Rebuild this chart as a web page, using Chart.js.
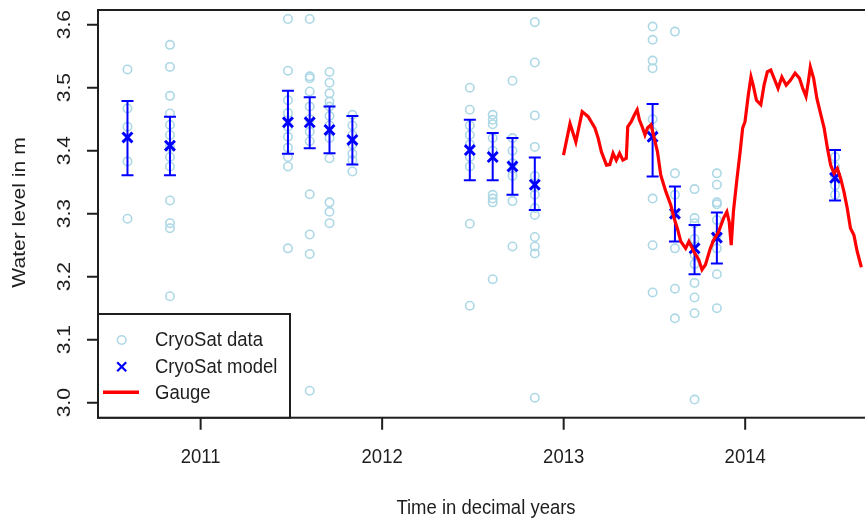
<!DOCTYPE html>
<html><head><meta charset="utf-8">
<script src="https://cdn.jsdelivr.net/npm/chart.js@4.4.0/dist/chart.umd.min.js"></script>
<style>
html,body{margin:0;padding:0;background:#fff;overflow:hidden;width:865px;height:519px;}
#wrap{position:absolute;left:0;top:0;width:880px;height:519px;}
</style></head><body>
<div id="wrap"><canvas id="c" width="880" height="519"></canvas></div>
<script>
// ---------- data ----------
const xTicks = [2011, 2012, 2013, 2014];
const xTickLabels = ['2011', '2012', '2013', '2014'];
const yTicks = [3.0, 3.1, 3.2, 3.3, 3.4, 3.5, 3.6];
const yTickLabels = ['3.0', '3.1', '3.2', '3.3', '3.4', '3.5', '3.6'];
const xTitle = 'Time in decimal years';
const yTitle = 'Water level in m';
const legendLabels = ['CryoSat data', 'CryoSat model', 'Gauge'];

const passTimes = [2010.597, 2010.831, 2011.481, 2011.601, 2011.710, 2011.836,
  2012.483, 2012.609, 2012.718, 2012.841, 2013.490, 2013.613, 2013.721, 2013.844, 2014.495];

const cryoData = [
  [3.529, 3.467, 3.438, 3.383, 3.292],
  [3.568, 3.533, 3.487, 3.459, 3.441, 3.425, 3.406, 3.390, 3.375, 3.321, 3.285, 3.277, 3.169],
  [3.609, 3.527, 3.480, 3.460, 3.438, 3.422, 3.405, 3.390, 3.375, 3.245],
  [3.609, 3.518, 3.515, 3.494, 3.470, 3.450, 3.430, 3.415, 3.331, 3.267, 3.236, 3.019],
  [3.525, 3.508, 3.491, 3.478, 3.470, 3.455, 3.440, 3.420, 3.388, 3.318, 3.303, 3.285],
  [3.457, 3.440, 3.425, 3.410, 3.395, 3.385, 3.367],
  [3.500, 3.465, 3.440, 3.425, 3.410, 3.390, 3.375, 3.284, 3.154],
  [3.457, 3.449, 3.442, 3.420, 3.400, 3.330, 3.324, 3.318, 3.196],
  [3.511, 3.420, 3.400, 3.380, 3.360, 3.320, 3.248],
  [3.604, 3.540, 3.456, 3.406, 3.360, 3.330, 3.309, 3.298, 3.263, 3.248, 3.237, 3.008],
  [3.597, 3.576, 3.543, 3.531, 3.450, 3.430, 3.324, 3.250, 3.175],
  [3.589, 3.364, 3.330, 3.300, 3.245, 3.181, 3.134],
  [3.339, 3.293, 3.285, 3.260, 3.235, 3.220, 3.190, 3.167, 3.142, 3.005],
  [3.364, 3.346, 3.318, 3.315, 3.290, 3.265, 3.245, 3.204, 3.150],
  [3.390, 3.375, 3.360, 3.345, 3.330]
];

const modelLevels = [3.421, 3.408, 3.445, 3.445, 3.433, 3.417, 3.401, 3.390, 3.375, 3.346, 3.422, 3.300, 3.245, 3.262, 3.357];
const modelUpper  = [3.479, 3.454, 3.495, 3.485, 3.470, 3.455, 3.449, 3.428, 3.420, 3.389, 3.474, 3.343, 3.282, 3.302, 3.401];
const modelLower  = [3.361, 3.361, 3.395, 3.404, 3.396, 3.378, 3.353, 3.353, 3.330, 3.306, 3.359, 3.256, 3.204, 3.221, 3.321];

const gaugeTimes = [2012.999, 2013.035, 2013.067, 2013.102, 2013.135, 2013.172, 2013.190, 2013.208, 2013.236, 2013.254,
  2013.272, 2013.290, 2013.308, 2013.326, 2013.345, 2013.353, 2013.372, 2013.390, 2013.405, 2013.417,
  2013.435, 2013.448, 2013.462, 2013.481, 2013.499, 2013.517, 2013.535, 2013.563, 2013.590, 2013.608,
  2013.626, 2013.645, 2013.672, 2013.690, 2013.717, 2013.744, 2013.762, 2013.781, 2013.808, 2013.826,
  2013.853, 2013.881, 2013.899, 2013.912, 2013.923, 2013.935, 2013.953, 2013.972, 2013.986, 2013.999,
  2014.017, 2014.032, 2014.044, 2014.062, 2014.086, 2014.104, 2014.122, 2014.141, 2014.159, 2014.181,
  2014.202, 2014.226, 2014.250, 2014.275, 2014.299, 2014.317, 2014.335, 2014.348, 2014.359, 2014.377,
  2014.395, 2014.417, 2014.435, 2014.453, 2014.471, 2014.490, 2014.508, 2014.526, 2014.544, 2014.562,
  2014.580, 2014.599, 2014.617, 2014.640];
const gaugeLevels = [3.393, 3.443, 3.414, 3.462, 3.454, 3.436, 3.420, 3.398, 3.377, 3.378,
  3.396, 3.385, 3.396, 3.385, 3.388, 3.438, 3.446, 3.457, 3.465, 3.449,
  3.436, 3.425, 3.436, 3.441, 3.420, 3.398, 3.361, 3.335, 3.314, 3.293,
  3.277, 3.256, 3.245, 3.256, 3.240, 3.227, 3.211, 3.219, 3.245, 3.258,
  3.271, 3.293, 3.303, 3.287, 3.250, 3.303, 3.351, 3.398, 3.436, 3.446,
  3.488, 3.517, 3.504, 3.480, 3.473, 3.504, 3.525, 3.528, 3.515, 3.499,
  3.517, 3.504, 3.512, 3.523, 3.515, 3.499, 3.486, 3.510, 3.533, 3.515,
  3.483, 3.457, 3.436, 3.404, 3.377, 3.364, 3.372, 3.356, 3.335, 3.309,
  3.277, 3.266, 3.240, 3.215];

// ---------- styles ----------
const X_MIN = 2010.4346, X_MAX = 2014.6876;
const Y_MIN = 2.9762, Y_MAX = 3.6233;
const FONT = '18.5px "Liberation Sans", Arial, sans-serif';
const SY = 1.14;
const INK = '#1e1e1e';

const dataPts = [];
cryoData.forEach((vals, i) => vals.forEach(v => dataPts.push({x: passTimes[i], y: v})));
const modelPts = passTimes.map((t, i) => ({x: t, y: modelLevels[i]}));
const gaugePts = gaugeTimes.map((t, i) => ({x: t, y: gaugeLevels[i]}));

function txt(ctx, s, x, y, rot, align) {
  ctx.save();
  ctx.translate(x, y);
  ctx.scale(1, SY);
  if (rot) ctx.rotate(-Math.PI / 2);
  ctx.font = FONT;
  ctx.fillStyle = INK;
  ctx.textAlign = align || 'center';
  ctx.textBaseline = 'middle';
  ctx.fillText(s, 0, 0);
  ctx.restore();
}

const rStyle = {
  id: 'rStyle',
  afterDatasetDraw(chart, args) {
    if (args.index !== 2) return;
    const ctx = chart.ctx, xs = chart.scales.x, ys = chart.scales.y;
    ctx.save();
    ctx.strokeStyle = '#0000ff';
    ctx.lineWidth = 2;
    passTimes.forEach((t, i) => {
      const px = xs.getPixelForValue(t);
      const pu = ys.getPixelForValue(modelUpper[i]);
      const pl = ys.getPixelForValue(modelLower[i]);
      ctx.beginPath();
      ctx.moveTo(px, pu); ctx.lineTo(px, pl);
      ctx.moveTo(px - 6, pu); ctx.lineTo(px + 6, pu);
      ctx.moveTo(px - 6, pl); ctx.lineTo(px + 6, pl);
      ctx.stroke();
    });
    ctx.restore();
  },
  afterDraw(chart) {
    const ctx = chart.ctx, xs = chart.scales.x, ys = chart.scales.y, a = chart.chartArea;
    ctx.save();
    ctx.strokeStyle = INK;
    ctx.lineWidth = 2;
    // box
    ctx.strokeRect(a.left, a.top, a.right - a.left, a.bottom - a.top);
    // axis ticks
    ctx.beginPath();
    yTicks.forEach(v => {
      const py = ys.getPixelForValue(v);
      ctx.moveTo(a.left, py); ctx.lineTo(a.left - 11, py);
    });
    xTicks.forEach(v => {
      const px = xs.getPixelForValue(v);
      ctx.moveTo(px, a.bottom); ctx.lineTo(px, a.bottom + 12);
    });
    ctx.stroke();
    yTicks.forEach((v, i) => txt(ctx, yTickLabels[i], 64.5, ys.getPixelForValue(v), true));
    xTicks.forEach((v, i) => txt(ctx, xTickLabels[i], xs.getPixelForValue(v), 457, false));
    txt(ctx, xTitle, 486, 508, false);
    txt(ctx, yTitle, 20, 212.5, true);

    // legend
    const lx = a.left, ly = 314, lw = 192, lh = a.bottom - 314;
    ctx.fillStyle = '#ffffff';
    ctx.fillRect(lx, ly, lw, lh);
    ctx.strokeStyle = INK;
    ctx.lineWidth = 2;
    ctx.strokeRect(lx, ly, lw, lh);
    // circle
    ctx.strokeStyle = '#add8e6';
    ctx.lineWidth = 1.6;
    ctx.beginPath(); ctx.arc(121.7, 340, 4.3, 0, Math.PI * 2); ctx.stroke();
    // cross
    ctx.strokeStyle = '#0000ff';
    ctx.lineWidth = 2.2;
    ctx.beginPath();
    ctx.moveTo(117.2, 362.2); ctx.lineTo(126.2, 371.2);
    ctx.moveTo(126.2, 362.2); ctx.lineTo(117.2, 371.2);
    ctx.stroke();
    // line
    ctx.strokeStyle = '#ff0000';
    ctx.lineWidth = 3.5;
    ctx.beginPath(); ctx.moveTo(103, 392.3); ctx.lineTo(139, 392.3); ctx.stroke();
    txt(ctx, legendLabels[0], 155, 340, false, 'left');
    txt(ctx, legendLabels[1], 155, 367, false, 'left');
    txt(ctx, legendLabels[2], 155, 393.5, false, 'left');
    ctx.restore();
  }
};

new Chart(document.getElementById('c').getContext('2d'), {
  type: 'scatter',
  data: {
    datasets: [
      {label: legendLabels[2], type: 'line', data: gaugePts, borderColor: '#ff0000', borderWidth: 3.2,
       pointRadius: 0, tension: 0, fill: false, showLine: true},
      {label: legendLabels[1], data: modelPts, pointStyle: 'crossRot', pointRadius: 7,
       borderColor: '#0000ff', backgroundColor: '#0000ff', borderWidth: 3},
      {label: legendLabels[0], data: dataPts, pointStyle: 'circle', pointRadius: 4.2,
       borderColor: '#add8e6', backgroundColor: 'rgba(0,0,0,0)', borderWidth: 1.6}
    ]
  },
  options: {
    responsive: false, animation: false, devicePixelRatio: 1, events: [],
    layout: {padding: {left: 98, right: 2, top: 10, bottom: 101.3}},
    plugins: {legend: {display: false}, tooltip: {enabled: false}, title: {display: false}},
    scales: {
      x: {type: 'linear', min: X_MIN, max: X_MAX, display: false},
      y: {type: 'linear', min: Y_MIN, max: Y_MAX, display: false}
    }
  },
  plugins: [rStyle]
});
</script>
</body></html>
